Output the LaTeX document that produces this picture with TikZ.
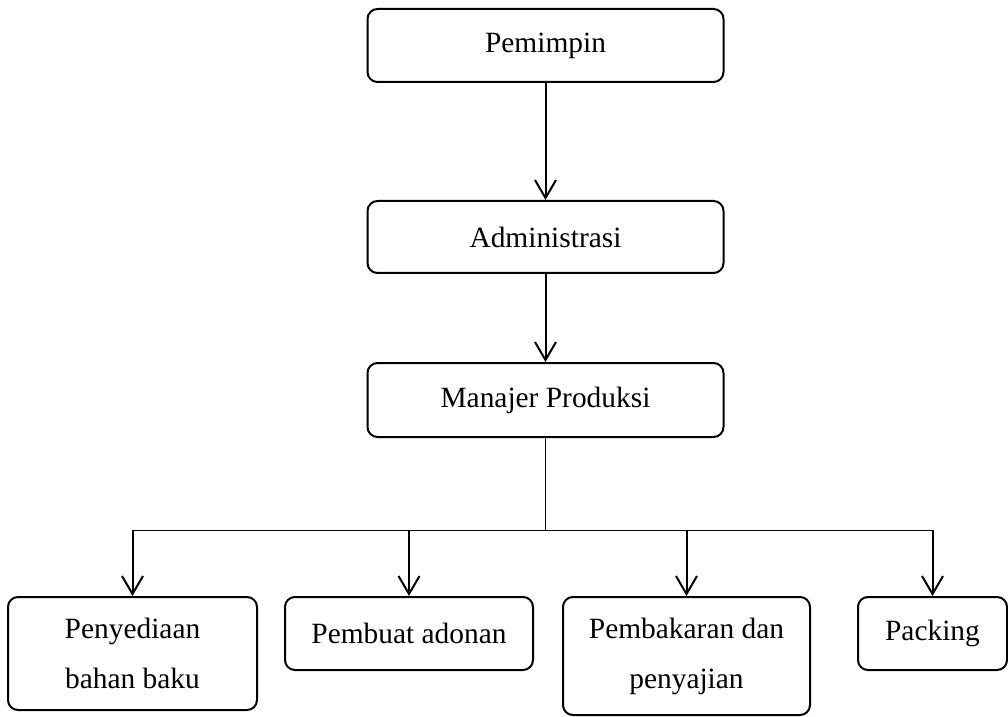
\documentclass[tikz,border=0pt]{standalone}
\usepackage{fontspec}
\setmainfont{Liberation Serif}
\usetikzlibrary{arrows.meta}
\begin{document}
\begin{tikzpicture}[x=0.5pt,y=-0.5pt,
  box/.style={draw=black, line width=1pt, rounded corners=5pt, inner sep=0pt,
    font=\fontsize{14.7}{25}\selectfont, align=center},
  arr/.style={line width=1pt, -{Straight Barb[length=9pt,width=10.5pt,line width=1pt]}},
  thin/.style={line width=0.5pt}]
\useasboundingbox (0,0) rectangle (1008,717);
\node[box, minimum width=178pt, minimum height=36.5pt] (pem) at (545.5,45.5) {Pemimpin};
\node[box, minimum width=178pt, minimum height=36pt] (adm) at (545.5,237) {Administrasi};
\node[box, minimum width=178pt, minimum height=37pt] (man) at (545.5,400) {Manajer Produksi};
\node[box, minimum width=124.5pt, minimum height=56.5pt] (b1) at (132.5,653.5) {Penyediaan\\bahan baku};
\node[box, minimum width=124pt, minimum height=36.5pt] (b2) at (409,633.5) {Pembuat adonan};
\node[box, minimum width=123.5pt, minimum height=59pt] (b3) at (686.5,656) {Pembakaran dan\\penyajian};
\node[box, minimum width=74.5pt, minimum height=36.5pt] (b4) at (932.5,633.5) {Packing};
\coordinate (bar) at (0,530);
\draw[arr] (pem) -- (adm);
\draw[arr] (adm) -- (man);
\draw[thin] (man.south) -- (man.south |- bar);
\draw[thin] (b1.north |- bar) -- (b4.north |- bar);
\draw[arr] (b1.north |- bar) -- (b1.north);
\draw[arr] (b2.north |- bar) -- (b2.north);
\draw[arr] (b3.north |- bar) -- (b3.north);
\draw[arr] (b4.north |- bar) -- (b4.north);
\end{tikzpicture}
\end{document}
